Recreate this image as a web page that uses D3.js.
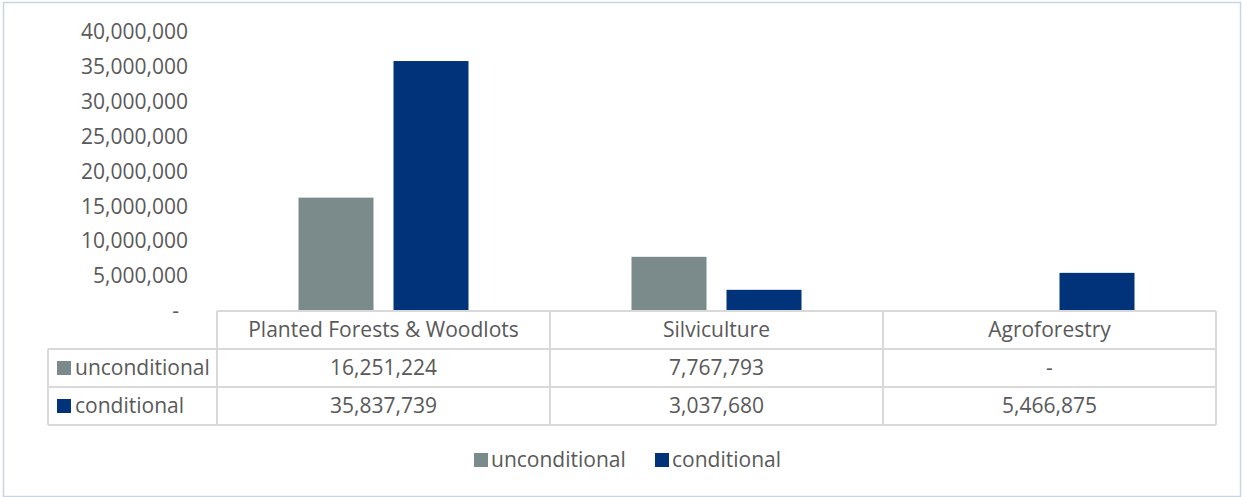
<!DOCTYPE html>
<html>
<head>
<meta charset="utf-8">
<script src="https://cdn.jsdelivr.net/npm/d3@7"></script>
<style>
  body { margin: 0; background: #fff; }
  text { font-family: "Open Sans", Lato, sans-serif; fill: #595959; }
</style>
</head>
<body>
<svg width="1246" height="497"></svg>
<script>
// chart values
var categories = ['Planted Forests & Woodlots', 'Silviculture', 'Agroforestry'];
var seriesNames = ['unconditional', 'conditional'];
var unconditional = [16251224, 7767793, null];
var conditional = [35837739, 3037680, 5466875];
var yTicks = [0, 5000000, 10000000, 15000000, 20000000, 25000000, 30000000, 35000000, 40000000];
var colors = ['#7b8a8b', '#00337a'];

var seriesValues = [unconditional, conditional];

var svg = d3.select('svg');

// outer chart border
svg.append('rect')
    .attr('x', 3.5).attr('y', 2.5)
    .attr('width', 1237).attr('height', 494)
    .attr('fill', 'none')
    .attr('stroke', '#c9d5e4')
    .attr('stroke-width', 1.5);

var plot = { l: 217, r: 1216, t: 32, b: 311 };
var fontSize = 21;

var y = d3.scaleLinear().domain([0, 40000000]).range([plot.b, plot.t]);
var x0 = d3.scaleBand().domain(categories).range([plot.l, plot.r]);
var groupW = 170;
var x1 = d3.scaleBand().domain(seriesNames).range([0, groupW]).paddingInner(0.2105);
var groupOff = (x0.bandwidth() - groupW) / 2;

var fmt = d3.format(',');
function label(v) { return (v === null || v === 0) ? '-' : fmt(v); }

// y axis (labels only)
var yAxis = svg.append('g')
    .attr('transform', 'translate(188,0)')
    .call(d3.axisLeft(y).tickValues(yTicks).tickSize(0).tickPadding(0).tickFormat(label));
yAxis.select('.domain').remove();
yAxis.selectAll('text')
    .style('font-family', '"Open Sans", Lato, sans-serif')
    .style('font-size', fontSize + 'px')
    .attr('fill', '#595959')
    .attr('dx', function(d) { return d === 0 ? -9 : 0; });

// bars
seriesNames.forEach(function(s, si) {
    svg.append('g').selectAll('rect')
        .data(categories.map(function(c, i) { return { cat: c, v: seriesValues[si][i] }; })
            .filter(function(d) { return d.v !== null; }))
        .enter().append('rect')
        .attr('x', function(d) { return x0(d.cat) + groupOff + x1(s); })
        .attr('y', function(d) { return y(d.v); })
        .attr('width', x1.bandwidth())
        .attr('height', function(d) { return y(0) - y(d.v); })
        .attr('fill', colors[si]);
});

// data table
var rowH = 38;
var tableTop = plot.b;
var tableLeft = 48;
var grid = svg.append('g').attr('stroke', '#d9d9d9').attr('stroke-width', 2).attr('fill', 'none');

// horizontal lines
grid.append('line').attr('x1', plot.l).attr('x2', plot.r).attr('y1', tableTop).attr('y2', tableTop);
[1, 2, 3].forEach(function(r) {
    grid.append('line').attr('x1', tableLeft).attr('x2', plot.r)
        .attr('y1', tableTop + r * rowH).attr('y2', tableTop + r * rowH);
});
// vertical lines
grid.append('line').attr('x1', tableLeft).attr('x2', tableLeft)
    .attr('y1', tableTop + rowH).attr('y2', tableTop + 3 * rowH);
categories.forEach(function(c) {
    grid.append('line').attr('x1', x0(c)).attr('x2', x0(c))
        .attr('y1', tableTop).attr('y2', tableTop + 3 * rowH);
});
grid.append('line').attr('x1', plot.r).attr('x2', plot.r)
    .attr('y1', tableTop).attr('y2', tableTop + 3 * rowH);

// header text
svg.append('g').selectAll('text')
    .data(categories).enter().append('text')
    .attr('x', function(d) { return x0(d) + x0.bandwidth() / 2; })
    .attr('y', tableTop + rowH / 2)
    .attr('dy', '0.35em')
    .attr('text-anchor', 'middle')
    .style('font-size', fontSize + 'px')
    .text(function(d) { return d; });

// table rows
seriesNames.forEach(function(s, si) {
    var cy = tableTop + (si + 1.5) * rowH;
    svg.append('rect')
        .attr('x', 57).attr('y', cy - 7)
        .attr('width', 14).attr('height', 14)
        .attr('fill', colors[si]);
    svg.append('text')
        .attr('x', 75).attr('y', cy).attr('dy', '0.35em')
        .style('font-size', fontSize + 'px')
        .text(s);
    svg.append('g').selectAll('text')
        .data(categories).enter().append('text')
        .attr('x', function(d) { return x0(d) + x0.bandwidth() / 2; })
        .attr('y', cy).attr('dy', '0.35em')
        .attr('text-anchor', 'middle')
        .style('font-size', fontSize + 'px')
        .text(function(d, i) { return label(seriesValues[si][i]); });
});

// legend
var legendX = [474, 655];
seriesNames.forEach(function(s, si) {
    svg.append('rect')
        .attr('x', legendX[si]).attr('y', 453)
        .attr('width', 14).attr('height', 14)
        .attr('fill', colors[si]);
    svg.append('text')
        .attr('x', legendX[si] + 17).attr('y', 460).attr('dy', '0.35em')
        .style('font-size', fontSize + 'px')
        .text(s);
});
</script>
</body>
</html>
